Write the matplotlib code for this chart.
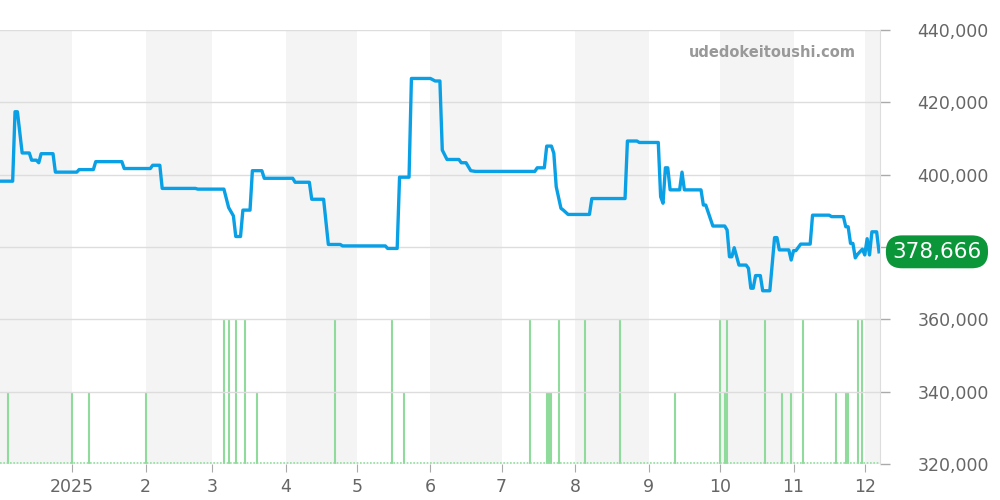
import matplotlib
matplotlib.use('Agg')
import matplotlib.pyplot as plt
import matplotlib.ticker as mticker
import pandas as pd

# price history (date, yen)
price_dates = [
    '2024-12-02', '2024-12-07', '2024-12-08', '2024-12-09', '2024-12-11', '2024-12-14',
    '2024-12-15', '2024-12-17', '2024-12-18', '2024-12-19', '2024-12-24', '2024-12-25',
    '2025-01-03', '2025-01-04', '2025-01-10', '2025-01-11', '2025-01-22', '2025-01-23',
    '2025-02-03', '2025-02-04', '2025-02-07', '2025-02-08', '2025-02-22', '2025-02-23',
    '2025-03-06', '2025-03-08', '2025-03-10', '2025-03-11', '2025-03-13', '2025-03-14',
    '2025-03-17', '2025-03-18', '2025-03-22', '2025-03-23', '2025-04-04', '2025-04-05',
    '2025-04-11', '2025-04-12', '2025-04-17', '2025-04-19', '2025-04-24', '2025-04-25',
    '2025-05-13', '2025-05-14', '2025-05-18', '2025-05-19', '2025-05-23', '2025-05-24',
    '2025-06-01', '2025-06-03', '2025-06-05', '2025-06-06', '2025-06-08', '2025-06-13',
    '2025-06-14', '2025-06-16', '2025-06-18', '2025-06-20', '2025-07-15', '2025-07-16',
    '2025-07-19', '2025-07-20', '2025-07-22', '2025-07-23', '2025-07-24', '2025-07-26',
    '2025-07-27', '2025-07-29', '2025-08-07', '2025-08-08', '2025-08-22', '2025-08-23',
    '2025-08-27', '2025-08-28', '2025-09-05', '2025-09-06', '2025-09-07', '2025-09-08',
    '2025-09-09', '2025-09-10', '2025-09-14', '2025-09-15', '2025-09-16', '2025-09-23',
    '2025-09-24', '2025-09-25', '2025-09-28', '2025-10-03', '2025-10-04', '2025-10-05',
    '2025-10-06', '2025-10-07', '2025-10-09', '2025-10-12', '2025-10-13', '2025-10-14',
    '2025-10-15', '2025-10-16', '2025-10-18', '2025-10-19', '2025-10-22', '2025-10-24',
    '2025-10-25', '2025-10-26', '2025-10-30', '2025-10-31', '2025-11-01', '2025-11-02',
    '2025-11-04', '2025-11-08', '2025-11-09', '2025-11-16', '2025-11-17', '2025-11-22',
    '2025-11-23', '2025-11-24', '2025-11-25', '2025-11-26', '2025-11-27', '2025-11-28',
    '2025-11-30', '2025-12-01', '2025-12-02', '2025-12-03', '2025-12-04', '2025-12-06',
    '2025-12-07',
]
price_values = [
    398200, 398200, 417400, 417400, 406000, 406000,
    404000, 404000, 403300, 405800, 405800, 400700,
    400700, 401400, 401400, 403600, 403600, 401700,
    401700, 402600, 402600, 396200, 396200, 396000,
    396000, 390900, 388600, 382900, 382900, 390200,
    390200, 401100, 401100, 399000, 399000, 397900,
    397900, 393200, 393200, 380700, 380700, 380300,
    380300, 379600, 379600, 399300, 399300, 426600,
    426600, 425900, 425900, 406800, 404200, 404200,
    403300, 403300, 401100, 400900, 400900, 401900,
    401900, 407900, 407900, 405900, 396700, 390700,
    390200, 389000, 389000, 393400, 393400, 409300,
    409300, 408900, 408900, 393900, 392100, 401900,
    401900, 395800, 395800, 400700, 395800, 395800,
    391600, 391600, 385800, 385800, 384700, 377300,
    377300, 379800, 375000, 375000, 374100, 368600,
    368600, 372100, 372100, 367900, 367900, 382600,
    382600, 379200, 379200, 376400, 379000, 379000,
    380800, 380800, 388800, 388800, 388400, 388400,
    385600, 385600, 381000, 381000, 377000, 378000,
    379400, 377800, 382300, 377800, 384200, 384200,
    378666,
]

# trade counts (volume bars)
volume_dates = [
    '2024-12-05', '2025-01-01', '2025-01-08', '2025-02-01', '2025-03-06', '2025-03-08',
    '2025-03-11', '2025-03-15', '2025-03-20', '2025-04-22', '2025-05-16', '2025-05-21',
    '2025-07-13', '2025-07-20', '2025-07-21', '2025-07-22', '2025-07-25', '2025-08-05',
    '2025-08-20', '2025-09-12', '2025-10-01', '2025-10-03', '2025-10-04', '2025-10-20',
    '2025-10-27', '2025-10-31', '2025-11-05', '2025-11-19', '2025-11-23', '2025-11-24',
    '2025-11-28', '2025-11-30',
]
volume_counts = [
    1, 1, 1, 1, 2, 2,
    2, 2, 1, 2, 2, 1,
    2, 1, 1, 1, 2, 2,
    2, 1, 2, 1, 2, 2,
    1, 1, 2, 1, 1, 1,
    2, 2,
]

month_labels = ['2025', '2', '3', '4', '5', '6', '7', '8', '9', '10', '11', '12']
last_price = 378666
watermark = 'udedokeitoushi.com'

pdates = pd.to_datetime(price_dates)
vdates = pd.to_datetime(volume_dates)
xmin = pd.Timestamp('2024-12-01 16:00')
xmax = pd.Timestamp('2025-12-07 10:00')

fig = plt.figure(figsize=(10, 5), dpi=100)

# bottom layer: month shading + volume bars
vax = fig.add_axes([0.0, 0.072, 0.88, 0.868])
vax.set_xlim(xmin, xmax)
vax.set_ylim(0, 6)  # one trade = one grid step (20,000)
months = pd.date_range('2024-12-01', '2025-12-01', freq='MS')
for i, m in enumerate(months):
    if i % 2 == 0:
        vax.axvspan(m, m + pd.offsets.MonthBegin(1), color='#f4f4f4', zorder=0, lw=0)
vax.vlines(vdates, 0, volume_counts, color='#8fdb9b', lw=1.5, zorder=2)
vax.plot([xmin, xmax], [0.02, 0.02], color='#8fdb9b', lw=1.2, ls=(0, (1, 1)), zorder=2)
vax.set_xlim(xmin, xmax)
vax.axis('off')
vax.patch.set_visible(True)

# top layer: price
ax = fig.add_axes([0.0, 0.072, 0.88, 0.868])
ax.patch.set_visible(False)
ax.set_xlim(xmin, xmax)
ax.set_ylim(320000, 440000)
ax.set_yticks(range(320000, 440001, 20000))
ax.yaxis.grid(True, color='#dddddd', lw=1)
ax.set_axisbelow(True)
ax.plot(pdates, price_values, color='#0aa0e6', lw=2.4, zorder=3, solid_joinstyle='round')

ax.yaxis.tick_right()
ax.yaxis.set_major_formatter(mticker.FuncFormatter(lambda v, p: f'{int(v):,}'))
ax.tick_params(axis='y', color='#aaaaaa', labelcolor='#666666', labelsize=12.5,
               length=7, width=1, pad=20)
ax.set_xticks(pd.date_range('2025-01-01', '2025-12-01', freq='MS'))
ax.set_xticklabels(month_labels)
ax.tick_params(axis='x', color='#aaaaaa', labelcolor='#666666', labelsize=12.5,
               length=6, pad=4)
for k in ['top', 'left', 'bottom']:
    ax.spines[k].set_visible(False)
ax.spines['right'].set_color('#dddddd')

ax.text(0.973, 0.949, watermark, transform=ax.transAxes, ha='right', va='center',
        fontsize=10.5, fontweight='bold', color='#999999')

ax.annotate(f'{last_price:,}', xy=(1.0, last_price), xycoords=('axes fraction', 'data'),
            xytext=(41, 0), textcoords='offset points', ha='center', va='center',
            fontsize=15.5, color='white', annotation_clip=False, zorder=10,
            bbox=dict(boxstyle='round,pad=0.3,rounding_size=0.75', fc='#0a9639', ec='none'))

fig.savefig('out.png', dpi=100)
